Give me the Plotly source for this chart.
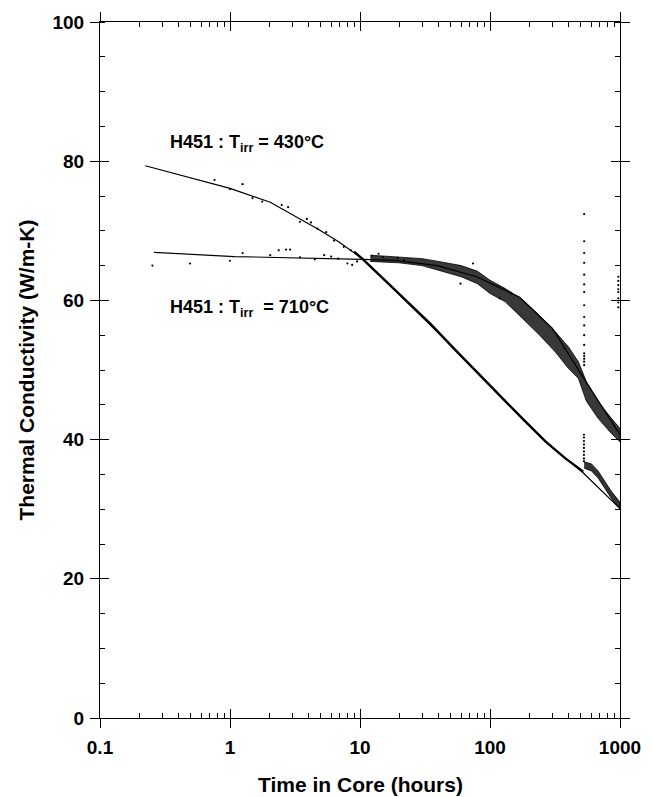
import plotly.graph_objects as go

# ---------------- data ----------------
# fitted curves
fit430_x = [0.223, 1.0, 2.04, 4.7, 6.9, 10.4, 18.5, 54.3, 126, 268, 522, 1000]
fit430_y = [79.35, 76.1, 74.1, 70.3, 68.4, 66.0, 61.5, 52.9, 45.9, 39.7, 35.2, 30.1]

fit710_x = [0.26, 1.08, 10.4, 18.5, 39.4, 79, 168, 301, 527, 1000]
fit710_y = [66.9, 66.3, 65.9, 65.75, 65.0, 63.4, 60.5, 56.0, 48.8, 40.7]

# dense measured band, T = 430 C (before the reactor restart)
band430_x = [9.0, 10.4, 14, 18.5, 25, 35, 54, 80, 126, 180, 268, 380, 522]
band430_y = [67.0, 66.0, 63.7, 61.5, 59.2, 56.6, 52.9, 49.6, 45.9, 42.9, 39.7, 37.3, 35.4]
# after the restart
post430_x = [530, 604, 678, 760, 855, 1000]
post430_up = [36.8, 36.5, 35.5, 34.1, 32.6, 31.0]
post430_lo = [35.9, 35.5, 34.5, 33.1, 31.6, 30.0]

# dense measured band, T = 710 C (upper / lower envelope)
band710_x = [12, 20, 30, 40, 60, 80, 100, 131, 178, 238, 318, 402, 478, 552, 676, 855, 1000]
band710_up = [66.5, 66.2, 66.0, 65.6, 65.0, 64.2, 62.9, 61.7, 60.1, 57.9, 55.5, 53.3, 51.2, 48.3, 45.5, 43.1, 41.6]
band710_lo = [65.6, 65.4, 65.0, 64.4, 63.4, 62.4, 61.0, 59.8, 57.4, 55.1, 52.6, 50.2, 48.8, 45.5, 43.1, 40.9, 39.7]

# sparse individual readings
dots430_x = [0.76, 1.25, 1.0, 1.49, 1.77, 2.5, 2.8, 3.45, 3.9, 4.2, 4.7, 5.5, 6.3, 7.5, 8.5, 9.2,
             528, 528, 528, 528, 528, 528, 528, 528, 528]
dots430_y = [77.3, 76.7, 76.0, 74.7, 74.2, 73.7, 73.4, 71.3, 71.7, 71.2, 70.3, 69.8, 68.6, 67.7, 67.2, 66.8,
             40.7, 40.3, 39.8, 39.3, 38.8, 38.3, 37.8, 37.3, 36.9]

dots710_x = [0.253, 0.493, 1.0, 1.25, 2.04, 2.37, 2.7, 2.9, 3.45, 4.5, 5.3, 6.0, 6.8, 8.0, 8.7, 9.5,
             12.4, 13.9, 15.1, 19.5, 21.9, 59.3, 74, 119, 145,
             530, 530, 530, 530, 530, 530, 530, 530, 530, 530, 530, 530, 530, 530, 530, 530, 530,
             970, 970, 970, 970, 970, 970, 970, 970]
dots710_y = [65.0, 65.3, 65.7, 66.8, 66.5, 67.2, 67.3, 67.3, 66.2, 65.9, 66.5, 66.3, 66.0, 65.3, 65.1, 65.6,
             66.4, 66.7, 66.2, 66.1, 65.8, 62.4, 65.3, 60.3, 61.0,
             72.4, 68.5, 66.8, 65.4, 63.7, 62.3, 61.2, 59.3, 57.6, 56.4, 55.0, 53.6, 52.4, 52.0, 51.6, 51.2, 50.7,
             63.4, 62.8, 62.2, 61.6, 61.2, 60.3, 59.7, 59.0]

x_major = [0.1, 1, 10, 100, 1000]
x_labels = ["0.1", "1", "10", "100", "1000"]
x_minor = [m * d for d in (0.1, 1, 10, 100) for m in range(2, 10)]
y_major = [0, 20, 40, 60, 80, 100]

label430 = "H451 : T<sub>irr</sub> = 430°C"
label710 = "H451 : T<sub>irr</sub>  = 710°C"
x_title = "Time in Core (hours)"
y_title = "Thermal Conductivity (W/m-K)"

FONT = "Liberation Sans, Arial, sans-serif"
INK = "black"

fig = go.Figure()

# 710 band as filled envelope
fig.add_trace(go.Scatter(
    x=band710_x + band710_x[::-1], y=band710_up + band710_lo[::-1],
    mode="lines", fill="toself", fillcolor="rgba(0,0,0,0.78)",
    line=dict(color="rgba(0,0,0,0.8)", width=1), hoverinfo="skip", showlegend=False))
# 430 post-restart band
fig.add_trace(go.Scatter(
    x=post430_x + post430_x[::-1], y=post430_up + post430_lo[::-1],
    mode="lines", fill="toself", fillcolor="rgba(0,0,0,0.8)",
    line=dict(color="rgba(0,0,0,0.8)", width=1), hoverinfo="skip", showlegend=False))
# 430 band
fig.add_trace(go.Scatter(x=band430_x, y=band430_y, mode="lines",
                         line=dict(color=INK, width=2.4), hoverinfo="skip", showlegend=False))
# sparse dots
fig.add_trace(go.Scatter(x=dots430_x, y=dots430_y, mode="markers",
                         marker=dict(color=INK, size=2.2), showlegend=False))
fig.add_trace(go.Scatter(x=dots710_x, y=dots710_y, mode="markers",
                         marker=dict(color=INK, size=2.2), showlegend=False))
# fitted lines
fig.add_trace(go.Scatter(x=fit430_x, y=fit430_y, mode="lines",
                         line=dict(color=INK, width=1.2), showlegend=False))
fig.add_trace(go.Scatter(x=fit710_x, y=fit710_y, mode="lines",
                         line=dict(color=INK, width=1.2), showlegend=False))
# dummy trace to create the overlay axes (inner halves of the major ticks)
fig.add_trace(go.Scatter(x=[None], y=[None], xaxis="x2", yaxis="y2", showlegend=False, hoverinfo="skip"))

tickfont = dict(family=FONT, size=19, color=INK, weight="bold")
common = dict(showgrid=False, zeroline=False, showline=True, linecolor=INK, linewidth=1.2,
              tickcolor=INK, tickwidth=1.2)

fig.update_layout(
    width=653, height=797,
    margin=dict(l=100, r=24, t=19, b=79),
    paper_bgcolor="white", plot_bgcolor="white",
    font=dict(family=FONT, color=INK),
    xaxis=dict(type="log", range=[-1, 3], mirror="allticks", ticks="outside", ticklen=9,
               tickvals=x_major, ticktext=x_labels, tickfont=tickfont, ticklabelstandoff=3,
               minor=dict(ticks="inside", ticklen=5, tickvals=x_minor, tickcolor=INK, tickwidth=1.2,
                          showgrid=False),
               **common),
    yaxis=dict(range=[0, 100], mirror="allticks", ticks="outside", ticklen=9,
               tickvals=y_major, tickfont=tickfont, ticklabelstandoff=2,
               minor=dict(ticks="inside", ticklen=5, dtick=5, tick0=0, tickcolor=INK, tickwidth=1.2,
                          showgrid=False),
               **common),
    xaxis2=dict(type="log", range=[-1, 3], overlaying="x", anchor="y2", mirror="allticks",
                ticks="inside", ticklen=9, tickvals=x_major, showticklabels=False, **common),
    yaxis2=dict(range=[0, 100], overlaying="y", anchor="x2", mirror="allticks",
                ticks="inside", ticklen=9, tickvals=y_major, showticklabels=False, **common),
    annotations=[
        dict(text=label430, x=-0.478, y=82.5, xref="x", yref="y", xanchor="left", yanchor="middle",
             showarrow=False, font=dict(family=FONT, size=18, color=INK, weight="bold")),
        dict(text=label710, x=-0.478, y=58.9, xref="x", yref="y", xanchor="left", yanchor="middle",
             showarrow=False, font=dict(family=FONT, size=18, color=INK, weight="bold")),
        dict(text=x_title, x=0.5, y=0, xref="paper", yref="paper", xanchor="center", yanchor="middle",
             yshift=-66, showarrow=False, font=dict(family=FONT, size=21, color=INK, weight="bold")),
        dict(text=y_title, x=0, y=0.5, xref="paper", yref="paper", xanchor="center", yanchor="middle",
             xshift=-74.5, textangle=-90, showarrow=False,
             font=dict(family=FONT, size=21, color=INK, weight="bold")),
    ],
)

fig.write_html("out.html")
